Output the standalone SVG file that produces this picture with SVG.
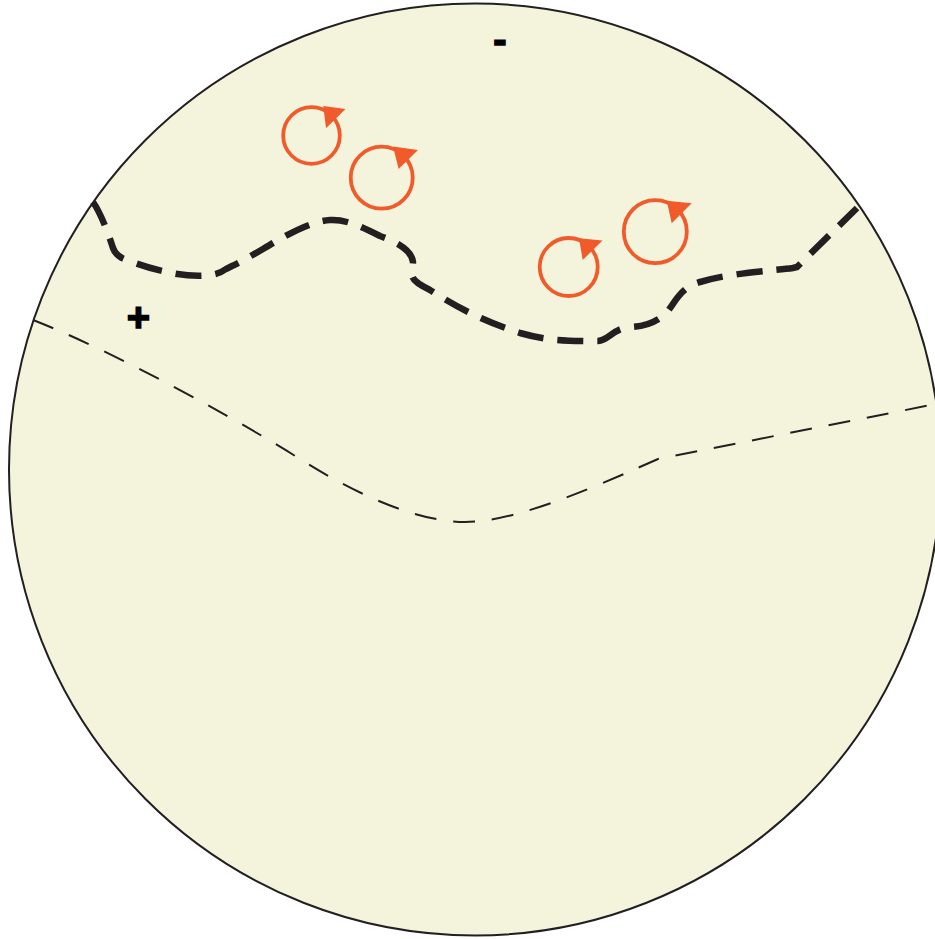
<svg xmlns="http://www.w3.org/2000/svg" width="935" height="939" viewBox="0 0 935 939">
<style>
.disk{fill:#f4f4dc;stroke:#231f20;stroke-width:2}
.thick{fill:none;stroke:#231f20;stroke-width:6.5;stroke-dasharray:26 14}
.thin{fill:none;stroke:#231f20;stroke-width:2;stroke-dasharray:22 17}
.rot circle{fill:none;stroke:#f15a2b;stroke-width:3.8}
.rot polygon{fill:#f15a2b}
.sign{font-family:"Liberation Sans",Arial,sans-serif;font-weight:bold;font-size:40px;fill:#000;stroke:#000;stroke-width:1.5;text-anchor:middle}
</style>
<rect width="935" height="939" fill="#ffffff"/>
<g id="sphere"><circle class="disk" cx="475" cy="469.5" r="466"/></g>
<g id="connectors">
<path class="thick" d="M93,202 C100,212 108,232 113,248 C116,256 120,258 135,263 C160,272 190,278 210,275 C218,274 222,272 226,269 L232,266 C262,252 300,222 330,220 C345,219 360,226 380,236 C400,243 412,252 413,262 L412,275 C413,281 418,284 430,290 C455,306 480,320 520,333 C545,340 560,341 598,341 C610,340 612,328 632,327 C648,326 660,320 668,311 C676,300 682,287 700,282 C730,273 770,271 793,268 L797,267 L857,208"/>
<path class="thin" d="M33,320 C113,351 240,421 300,459 C360,497 420,522 465,522 C520,522 610,480 658,459 L936,404"/>
</g>
<g id="vortex1" class="rot"><circle cx="311.5" cy="135.5" r="28.3"/><polygon points="323.3,106 345.5,109 326,128.3"/></g>
<g id="vortex2" class="rot"><circle cx="381.7" cy="177.7" r="31"/><polygon points="393,146.5 418,150 398.6,169"/></g>
<g id="vortex3" class="rot"><circle cx="568.7" cy="267" r="29"/><polygon points="579,238.3 602.5,240.5 582.7,260"/></g>
<g id="vortex4" class="rot"><circle cx="655.3" cy="231.7" r="31.5"/><polygon points="666.7,200.7 691.7,203.3 671.7,223.3"/></g>
<g id="minus"><text class="sign" x="500" y="53">-</text></g>
<g id="plus"><text class="sign" x="138.5" y="330.5">+</text></g>
</svg>
